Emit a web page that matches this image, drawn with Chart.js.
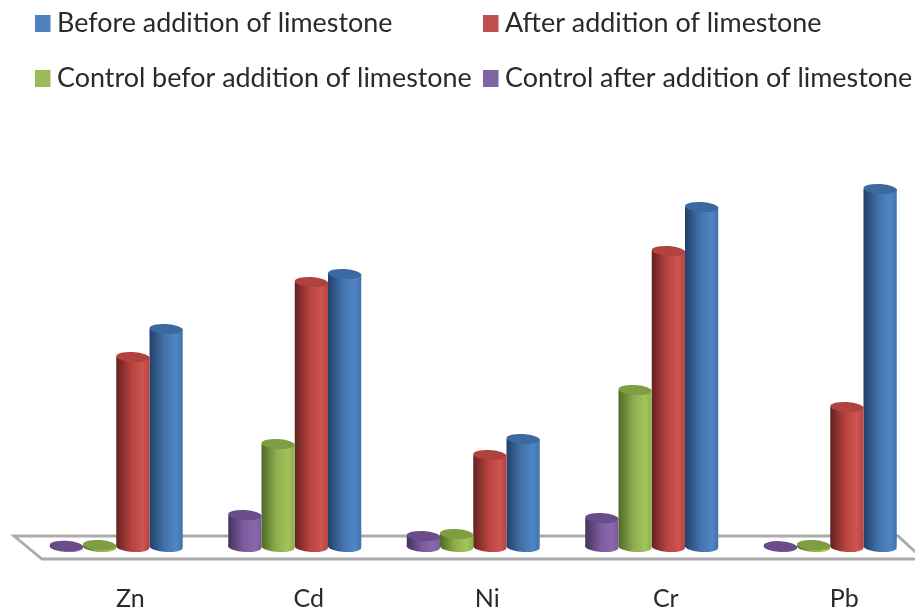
<!DOCTYPE html>
<html><head><meta charset="utf-8">
<script src="https://cdn.jsdelivr.net/npm/chart.js@4/dist/chart.umd.min.js"></script>
<style>html,body{margin:0;padding:0;background:#fff;overflow:hidden;width:915px;height:613px}
#wrap{position:absolute;left:0;top:0;width:915px;height:613px;overflow:hidden}
canvas{display:block;filter:blur(0.6px)}</style></head>
<body><div id="wrap"><canvas id="c" width="940" height="613" style="width:940px;height:613px"></canvas></div>
<script>
const categories = ["Zn","Cd","Ni","Cr","Pb"];
const controlAfter  = [0.3, 8, 2.75, 7.25, 0.2];
const controlBefore = [0.5, 25.75, 3.25, 39.25, 0.5];
const afterLime  = [47.5, 66.25, 23, 74, 35];
const beforeLime = [54.5, 68.25, 27, 85, 89.5];

const labelBefore = "Before addition of limestone";
const labelAfter = "After addition of limestone";
const labelCtlBefore = "Control befor addition of limestone";
const labelCtlAfter = "Control after addition of limestone";

const colors = {
  purple:{dark:"#44325f", mid:"#7a5b9c", light:"#8a68ad", cap:"#6a4c8c", key:"#8064a2"},
  green: {dark:"#4f6a26", mid:"#8eae4e", light:"#a3c35c", cap:"#7f9e42", key:"#9bbb59"},
  red:   {dark:"#632220", mid:"#b8423f", light:"#cc5552", cap:"#b04340", key:"#c0504d"},
  blue:  {dark:"#22406a", mid:"#4372aa", light:"#4f86c6", cap:"#3c69a0", key:"#4f81bd"}
};
const FONT = "Lato, 'Open Sans', sans-serif";
const RY = 5, TILT = 0.06;

function cylGrad(ctx, x0, x1, c){
  const g = ctx.createLinearGradient(x0,0,x1,0);
  g.addColorStop(0,c.dark); g.addColorStop(0.45,c.mid); g.addColorStop(0.8,c.light); g.addColorStop(1,c.mid);
  return g;
}
function fill3d(c){
  return (ctx)=>{
    if(ctx.dataIndex===undefined) return c.mid;
    const chart=ctx.chart, s=chart.scales.x;
    if(!s||!s.width) return c.mid;
    const cw=s.width/categories.length, w=cw*0.745/4;
    const cx=s.getPixelForValue(ctx.dataIndex)+(ctx.datasetIndex-1.5)*w;
    return cylGrad(chart.ctx,cx-w/2,cx+w/2,c);
  };
}

const floorPlugin = {
  id:"floor",
  beforeDatasetsDraw(chart){
    const {ctx}=chart;
    const zero=chart.scales.y.getPixelForValue(0);
    const top=zero-11, bot=zero+12;
    ctx.save();
    ctx.strokeStyle="#ababab"; ctx.lineWidth=2.8; ctx.fillStyle="#ffffff"; ctx.lineJoin="miter";
    ctx.beginPath();
    ctx.moveTo(14,top); ctx.lineTo(898,top); ctx.lineTo(923,bot); ctx.lineTo(42,bot); ctx.closePath();
    ctx.fill(); ctx.stroke();
    chart.data.datasets.forEach((ds,di)=>{
      chart.getDatasetMeta(di).data.forEach(el=>{
        const rx=el.width/2;
        ctx.fillStyle=cylGrad(ctx,el.x-rx,el.x+rx,ds._c);
        ctx.beginPath(); ctx.ellipse(el.x,zero,rx,RY,TILT,0,Math.PI*2); ctx.fill();
      });
    });
    ctx.restore();
  },
  afterDatasetsDraw(chart){
    const {ctx}=chart;
    ctx.save();
    chart.data.datasets.forEach((ds,di)=>{
      chart.getDatasetMeta(di).data.forEach(el=>{
        const rx=el.width/2;
        ctx.fillStyle=ds._c.cap;
        ctx.beginPath(); ctx.ellipse(el.x,el.y,rx,RY,TILT,0,Math.PI*2); ctx.fill();
      });
    });
    ctx.restore();
  }
};

const legendPlugin = {
  id:"cornerLegend",
  afterDraw(chart){
    const {ctx}=chart;
    const rows=[[3,35,57,15],[2,483,505,15],[1,35,57,70],[0,483,505,70]];
    ctx.save();
    ctx.font="26.9px "+FONT; ctx.textBaseline="middle"; ctx.textAlign="left";
    rows.forEach(([di,bx,tx,by])=>{
      const ds=chart.data.datasets[di];
      ctx.fillStyle=ds._c.key; ctx.fillRect(bx,by,15.5,17);
      ctx.fillStyle="#2a2a2a"; ctx.fillText(ds.label,tx,by+8.5);
    });
    ctx.restore();
  }
};

new Chart(document.getElementById("c"),{
  type:"bar",
  data:{labels:categories,datasets:[
    {label:labelCtlAfter,data:controlAfter,_c:colors.purple,backgroundColor:fill3d(colors.purple)},
    {label:labelCtlBefore,data:controlBefore,_c:colors.green,backgroundColor:fill3d(colors.green)},
    {label:labelAfter,data:afterLime,_c:colors.red,backgroundColor:fill3d(colors.red)},
    {label:labelBefore,data:beforeLime,_c:colors.blue,backgroundColor:fill3d(colors.blue)}
  ]},
  options:{
    responsive:false,animation:false,devicePixelRatio:1,
    layout:{padding:{left:27,right:20.5,top:147,bottom:0}},
    datasets:{bar:{categoryPercentage:0.745,barPercentage:1,borderWidth:0}},
    plugins:{legend:{display:false},tooltip:{enabled:false},title:{display:false}},
    scales:{
      y:{display:false,min:0,max:100},
      x:{
        grid:{display:false},border:{display:false},
        afterFit(s){s.height=66;},
        ticks:{color:"#2a2a2a",font:{family:FONT,size:25},padding:29,labelOffset:14,maxRotation:0,autoSkip:false}
      }
    }
  },
  plugins:[floorPlugin,legendPlugin]
});
</script></body></html>
